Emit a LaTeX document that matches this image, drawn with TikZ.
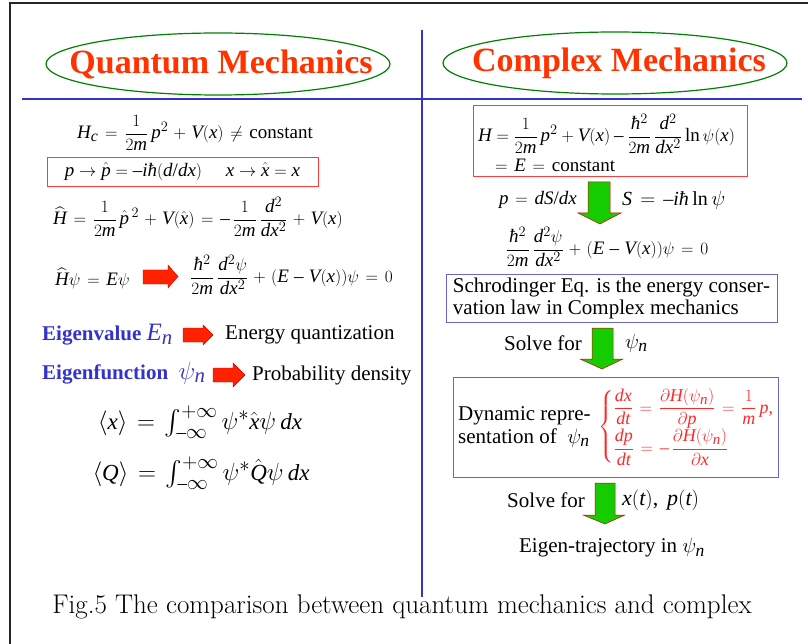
\documentclass[tikz,border=0pt]{standalone}
\usepackage{exscale}
\usepackage{fontspec}
\setmainfont{Liberation Serif}
\usepackage[italic]{mathastext}
\usetikzlibrary{shapes.geometric}
\definecolor{titlered}{RGB}{255,51,0}
\definecolor{ellgreen}{RGB}{0,128,0}
\definecolor{lineblue}{RGB}{51,51,204}
\definecolor{textblue}{RGB}{51,51,204}
\definecolor{boxred}{RGB}{255,60,60}
\definecolor{boxblue}{RGB}{102,102,204}
\definecolor{arrred}{RGB}{255,34,0}
\definecolor{arrgreen}{RGB}{20,204,0}
\definecolor{eqred}{RGB}{255,40,40}
\medmuskip=5.5mu plus 2mu minus 2mu
\thickmuskip=7mu plus 3mu
\newcommand{\tightmath}{\medmuskip=4mu\thickmuskip=5mu}
\tikzset{
  eq/.style={inner sep=0pt, font=\fontsize{19}{23}\selectfont},
  eqbig/.style={inner sep=0pt, font=\fontsize{23}{27}\selectfont},
  txt/.style={inner sep=0pt, font=\fontsize{21}{22}\selectfont},
  bluetxt/.style={inner sep=0pt, text=textblue, font=\fontsize{21}{22}\selectfont\bfseries},
  titletxt/.style={inner sep=0pt, text=titlered, font=\fontsize{34}{40}\selectfont\bfseries},
  titleell/.style={draw=ellgreen, line width=1.2pt},
  redbox/.style={draw=boxred, line width=0.9pt, inner sep=0pt},
  bluebox/.style={draw=boxblue, line width=0.9pt, inner sep=0pt},
  redarrow/.style={fill=arrred, draw=red!80!black, line width=0.4pt},
  greenarrow/.style={fill=arrgreen, draw=red!85!black, line width=0.5pt},
  rule/.style={draw=lineblue, line width=2pt},
}
\begin{document}
\begin{tikzpicture}[x=1pt,y=-1pt]
\useasboundingbox (0,0) rectangle (808,644);
\fill[white] (0,0) rectangle (808,644);
% frame
\draw[line width=1.5pt, black!85] (10,644) -- (10,3) -- (808,3);
% blue rules
\draw[rule] (22,99) -- (802,99);
\draw[rule] (422,30) -- (422,597);
% titles
\draw[titleell] (218,64) ellipse [x radius=172pt, y radius=31pt];
\node[titletxt] (qmt) at (221,64) {Quantum Mechanics};
\draw[titleell] (615,63) ellipse [x radius=172pt, y radius=31pt];
\node[titletxt] (cmt) at (619,63) {Complex Mechanics};
% ---------- left column
\node[eq] (hc) at (195,133) {$\displaystyle H_c=\frac{1}{2m}\,p^2+V(x)\neq\mbox{constant}$};
\node[redbox, eq, minimum width=271pt, minimum height=29pt] (pbox) at (182.5,171.5)
  {\tightmath$p\rightarrow\hat p=-i\hbar(d/dx)\quad\; x\rightarrow\hat x=x$};
\node[eq] (hhat) at (198,217) {$\displaystyle \widehat{H}=\frac{1}{2m}\,\hat{p}^{\,2}+V(\hat{x})=-\,\frac{1}{2m}\,\frac{d^2}{dx^2}+V(x)$};
\node[eq, anchor=west] (hpsi) at (55,278) {$\widehat{H}\psi=E\psi$};
\draw[redarrow] (143,270) -- (168,270) -- (168,265) -- (178,276.5) -- (168,288) -- (168,284) -- (143,284) -- cycle;
\node[eq, anchor=west] (schl) at (190,275) {$\displaystyle\frac{\hbar^2}{2m}\,\frac{d^2\psi}{dx^2}+(E-V(x))\psi=0$};
\node[bluetxt, anchor=west] (ev) at (42,335) {Eigenvalue {\mdseries\fontsize{25}{25}\selectfont$E_n$}};
\draw[redarrow] (183,328) -- (203,328) -- (203,325) -- (213,335) -- (203,345) -- (203,342) -- (183,342) -- cycle;
\node[txt, anchor=west] (eqz) at (225,335) {Energy quantization};
\node[bluetxt, anchor=west] (ef) at (42,373) {Eigenfunction \ {\mdseries\fontsize{25}{25}\selectfont$\psi_n$}};
\draw[redarrow] (213,368) -- (233,368) -- (233,363) -- (245,375) -- (233,387) -- (233,382) -- (213,382) -- cycle;
\node[txt, anchor=west] (pd) at (252,375) {Probability density};
\node[eqbig] (xexp) at (200,422) {$\langle x\rangle=\int_{-\infty}^{+\infty}\psi^*\hat{x}\psi\,dx$};
\node[eqbig] (qexp) at (201,473) {$\langle Q\rangle=\int_{-\infty}^{+\infty}\psi^*\hat{Q}\psi\,dx$};
% ---------- right column
\node[redbox, minimum width=274pt, minimum height=71pt] (hbox) at (610,140.5) {};
\node[eq] (hline) at (606.5,134) {\tightmath$\displaystyle H=\frac{1}{2m}\,p^2+V(x)-\frac{\hbar^2}{2m}\,\frac{d^2}{dx^2}\ln\psi(x)$};
\node[eq, anchor=west] (econst) at (495,165) {$=E=\mbox{constant}$};
\draw[greenarrow] (588,182) -- (610,182) -- (610,213) -- (621,213) -- (600,224) -- (578,213) -- (588,213) -- cycle;
\node[eq, anchor=east] (pds) at (577,200) {$p=dS/dx$};
\node[eq, anchor=west] (sln) at (622,200) {\fontsize{20}{20}\selectfont$S=-i\hbar\ln\psi$};
\node[eq] (schr) at (607,247) {$\displaystyle\frac{\hbar^2}{2m}\,\frac{d^2\psi}{dx^2}+(E-V(x))\psi=0$};
\node[bluebox, txt, align=left, minimum width=331pt, minimum height=48pt] (cons) at (611.5,298)
  {Schrodinger Eq. is the energy conser-\\vation law in Complex mechanics};
\node[txt, anchor=east] (sv1) at (582,343) {Solve for};
\draw[greenarrow] (592,328) -- (613,328) -- (613,359) -- (623,359) -- (602,369) -- (580,359) -- (592,359) -- cycle;
\node[eq, anchor=west] (psin1) at (625,343) {\fontsize{21}{21}\selectfont$\psi_n$};
\node[bluebox, minimum width=325pt, minimum height=100pt] (dynb) at (615.5,427) {};
\node[txt, anchor=west, align=left, font=\fontsize{21}{23}\selectfont] (dyn) at (458,427) {Dynamic repre-\\sentation of \ $\psi_n$};
\node[inner sep=0pt, anchor=west, text=eqred, font=\fontsize{18}{20}\selectfont] (ham) at (598,427)
  {$\left\{\begin{array}{@{}l@{}}\displaystyle\frac{dx}{dt}=\frac{\partial H(\psi_n)}{\partial p}=\frac{1}{m}\,p,\\[6pt]
  \displaystyle\frac{dp}{dt}=-\,\frac{\partial H(\psi_n)}{\partial x}\end{array}\right.$};
\node[txt, anchor=east] (sv2) at (585,500) {Solve for};
\draw[greenarrow] (595,483) -- (615,483) -- (615,515) -- (625,515) -- (605,524) -- (583,515) -- (595,515) -- cycle;
\node[eq, anchor=west] (xtpt) at (622,500) {\fontsize{22}{22}\selectfont$x(t),\ p(t)$};
\node[txt] (traj) at (612,548) {Eigen-trajectory in $\psi_n$};
% caption
\node[inner sep=0pt, font=\fontfamily{lmr}\fontsize{27}{32}\selectfont] (cap) at (402,607) {Fig.5 The comparison between quantum mechanics and complex};
\end{tikzpicture}
\end{document}
